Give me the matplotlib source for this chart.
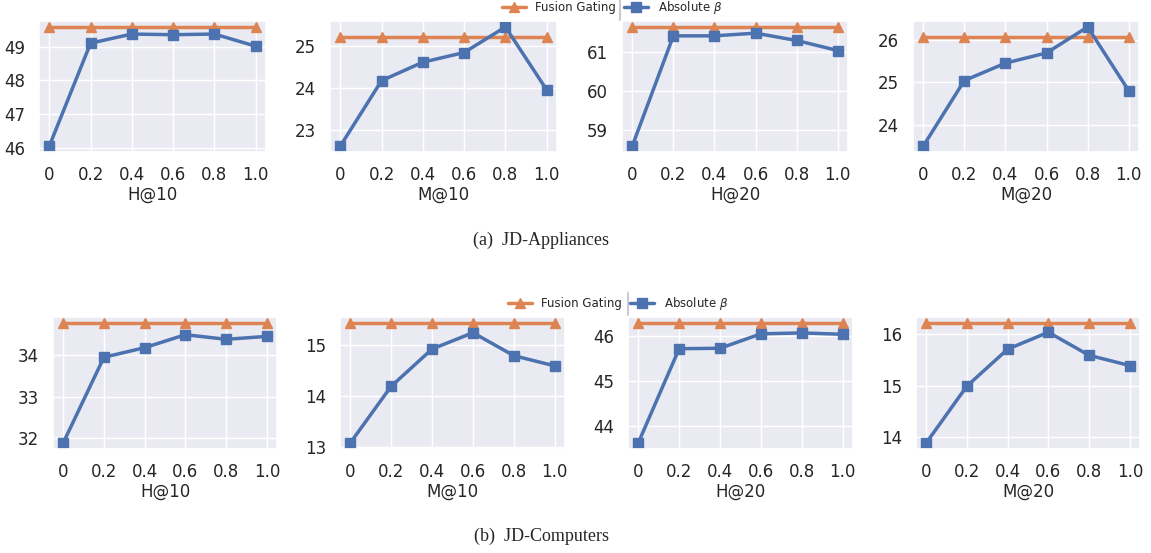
import numpy as np
import matplotlib
matplotlib.use("Agg")
import matplotlib.pyplot as plt
import seaborn as sns
from matplotlib.lines import Line2D

betas = [0, 0.2, 0.4, 0.6, 0.8, 1.0]
beta_labels = ["0", "0.2", "0.4", "0.6", "0.8", "1.0"]
metrics = ["H@10", "M@10", "H@20", "M@20"]

# JD-Appliances
app_fusion = [49.58, 25.23, 61.66, 26.06]
app_abs = [
    [46.05, 49.10, 49.37, 49.35, 49.37, 49.01],
    [22.62, 24.18, 24.62, 24.85, 25.46, 23.96],
    [58.58, 61.43, 61.43, 61.50, 61.31, 61.05],
    [23.50, 25.04, 25.45, 25.69, 26.30, 24.80],
]

# JD-Computers
comp_fusion = [34.76, 15.43, 46.28, 16.22]
comp_abs = [
    [31.89, 33.94, 34.17, 34.48, 34.37, 34.44],
    [13.08, 14.19, 14.92, 15.24, 14.79, 14.59],
    [43.62, 45.71, 45.72, 46.04, 46.06, 46.03],
    [13.88, 14.99, 15.71, 16.04, 15.59, 15.39],
]

sns.set_theme(style="darkgrid")
plt.rcParams["font.family"] = ["DejaVu Sans"]
blue = "#4C72B0"
orange = "#DD8452"

W, H = 1151, 553
fig = plt.figure(figsize=(W / 100, H / 100), dpi=100)

# axes boxes in pixels (left, right, top, bottom)
row1 = [(39, 266, 21, 152), (330, 557, 21, 152), (622, 848, 21, 152), (913, 1139, 21, 152)]
row2 = [(53, 277, 317, 449), (340, 565, 317, 449), (628, 853, 317, 449), (916, 1140, 317, 449)]


def draw_row(boxes, fusion, absb):
    handles = None
    for (l, r, t, b), name, fv, av in zip(boxes, metrics, fusion, absb):
        ax = fig.add_axes([l / W, 1 - b / H, (r - l) / W, (b - t) / H])
        h1, = ax.plot(betas, [fv] * len(betas), color=orange, marker="^",
                      markersize=7, linewidth=2.5, label="Fusion Gating")
        h2, = ax.plot(betas, av, color=blue, marker="s",
                      markersize=7, linewidth=2.5, label=r"Absolute $\beta$")
        ax.set_xticks(betas)
        ax.set_xticklabels(beta_labels)
        ax.yaxis.set_major_locator(matplotlib.ticker.MultipleLocator(1))
        ax.tick_params(labelsize=12, pad=4, colors="#262626")
        ax.set_xlabel(name, fontsize=12, labelpad=1, color="#262626")
        handles = [h1, h2]
    return handles


def add_legend(hs, cx, cy, barx, bary0, bary1):
    fig.legend(handles=hs, loc="center", bbox_to_anchor=(cx / W, 1 - cy / H), ncol=2,
               frameon=False, fontsize=8.5, handlelength=2.0, columnspacing=0.7,
               borderaxespad=0)
    # leftover edge of the legend frame between the two entries
    fig.add_artist(Line2D([barx / W, barx / W], [1 - bary0 / H, 1 - bary1 / H],
                          color="#cccccc", linewidth=1.5))


hs = draw_row(row1, app_fusion, app_abs)
add_legend(hs, 612, 8, 620, 0, 20)
draw_row(row2, comp_fusion, comp_abs)
add_legend(hs, 618, 304, 628, 293, 315)

fig.text(541 / W, 1 - 240 / H, "(a)  JD-Appliances", ha="center", va="center",
         fontsize=13, family="Liberation Serif")
fig.text(541 / W, 1 - 536 / H, "(b)  JD-Computers", ha="center", va="center",
         fontsize=13, family="Liberation Serif")

fig.savefig("out.png", dpi=100)
